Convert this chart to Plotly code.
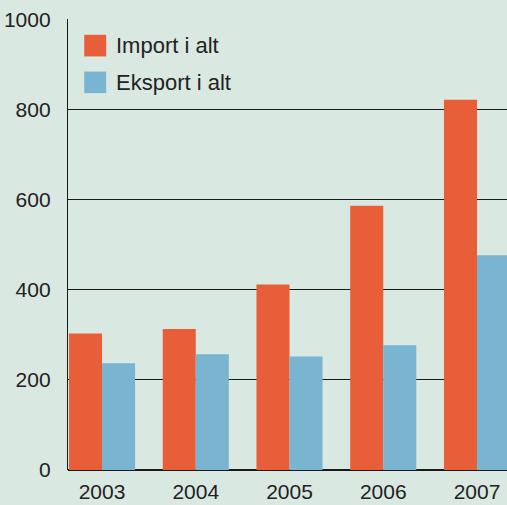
import plotly.graph_objects as go

years = ["2003", "2004", "2005", "2006", "2007"]
import_values = [303, 313, 412, 587, 822]
export_values = [237, 257, 252, 277, 477]
series_names = ["Import i alt", "Eksport i alt"]
colors = ["#E85E38", "#79B4D1"]
y_ticks = [0, 200, 400, 600, 800, 1000]

bg = "#DAE8E2"
font = "Liberation Sans, Arial, sans-serif"

fig = go.Figure()
for name, vals, col in zip(series_names, [import_values, export_values], colors):
    fig.add_trace(go.Bar(x=years, y=vals, name=name, marker=dict(color=col, line=dict(width=0)),
                         showlegend=False, hoverinfo="skip"))

# legend swatches + labels
for i, (name, col) in enumerate(zip(series_names, colors)):
    y0 = 0.965 - i * 0.0815
    fig.add_shape(type="rect", xref="paper", yref="paper",
                  x0=0.037, x1=0.087, y0=y0 - 0.048, y1=y0, fillcolor=col, line=dict(width=0))
    fig.add_annotation(xref="paper", yref="paper", x=0.105, y=y0 - 0.024, text=name,
                       showarrow=False, xanchor="left", yanchor="middle",
                       font=dict(size=22, color="#222222", family=font))

fig.update_layout(
    width=507, height=505,
    paper_bgcolor=bg, plot_bgcolor=bg,
    margin=dict(l=68, r=0, t=19, b=35),
    barmode="group", bargap=0.295, bargroupgap=0,
    font=dict(family=font, size=21, color="#222222"),
    xaxis=dict(type="category", range=[-0.363, 4.32], showgrid=False, showline=False,
               zeroline=False, ticks="", tickfont=dict(size=21), ticklabelstandoff=7,
               automargin=False),
    yaxis=dict(range=[0, 1001.5], tickvals=y_ticks, showgrid=True, gridcolor="#1a1a1a",
               gridwidth=1.3, showline=True, linecolor="#1a1a1a", linewidth=1.3,
               zeroline=True, zerolinecolor="#1a1a1a", zerolinewidth=1.5,
               ticks="", tickfont=dict(size=21), ticklabelstandoff=12, layer="below traces",
               automargin=False),
)

fig.write_html("out.html", config={"displayModeBar": False},
               post_script="document.body.style.margin='0';document.body.style.overflow='hidden';")
